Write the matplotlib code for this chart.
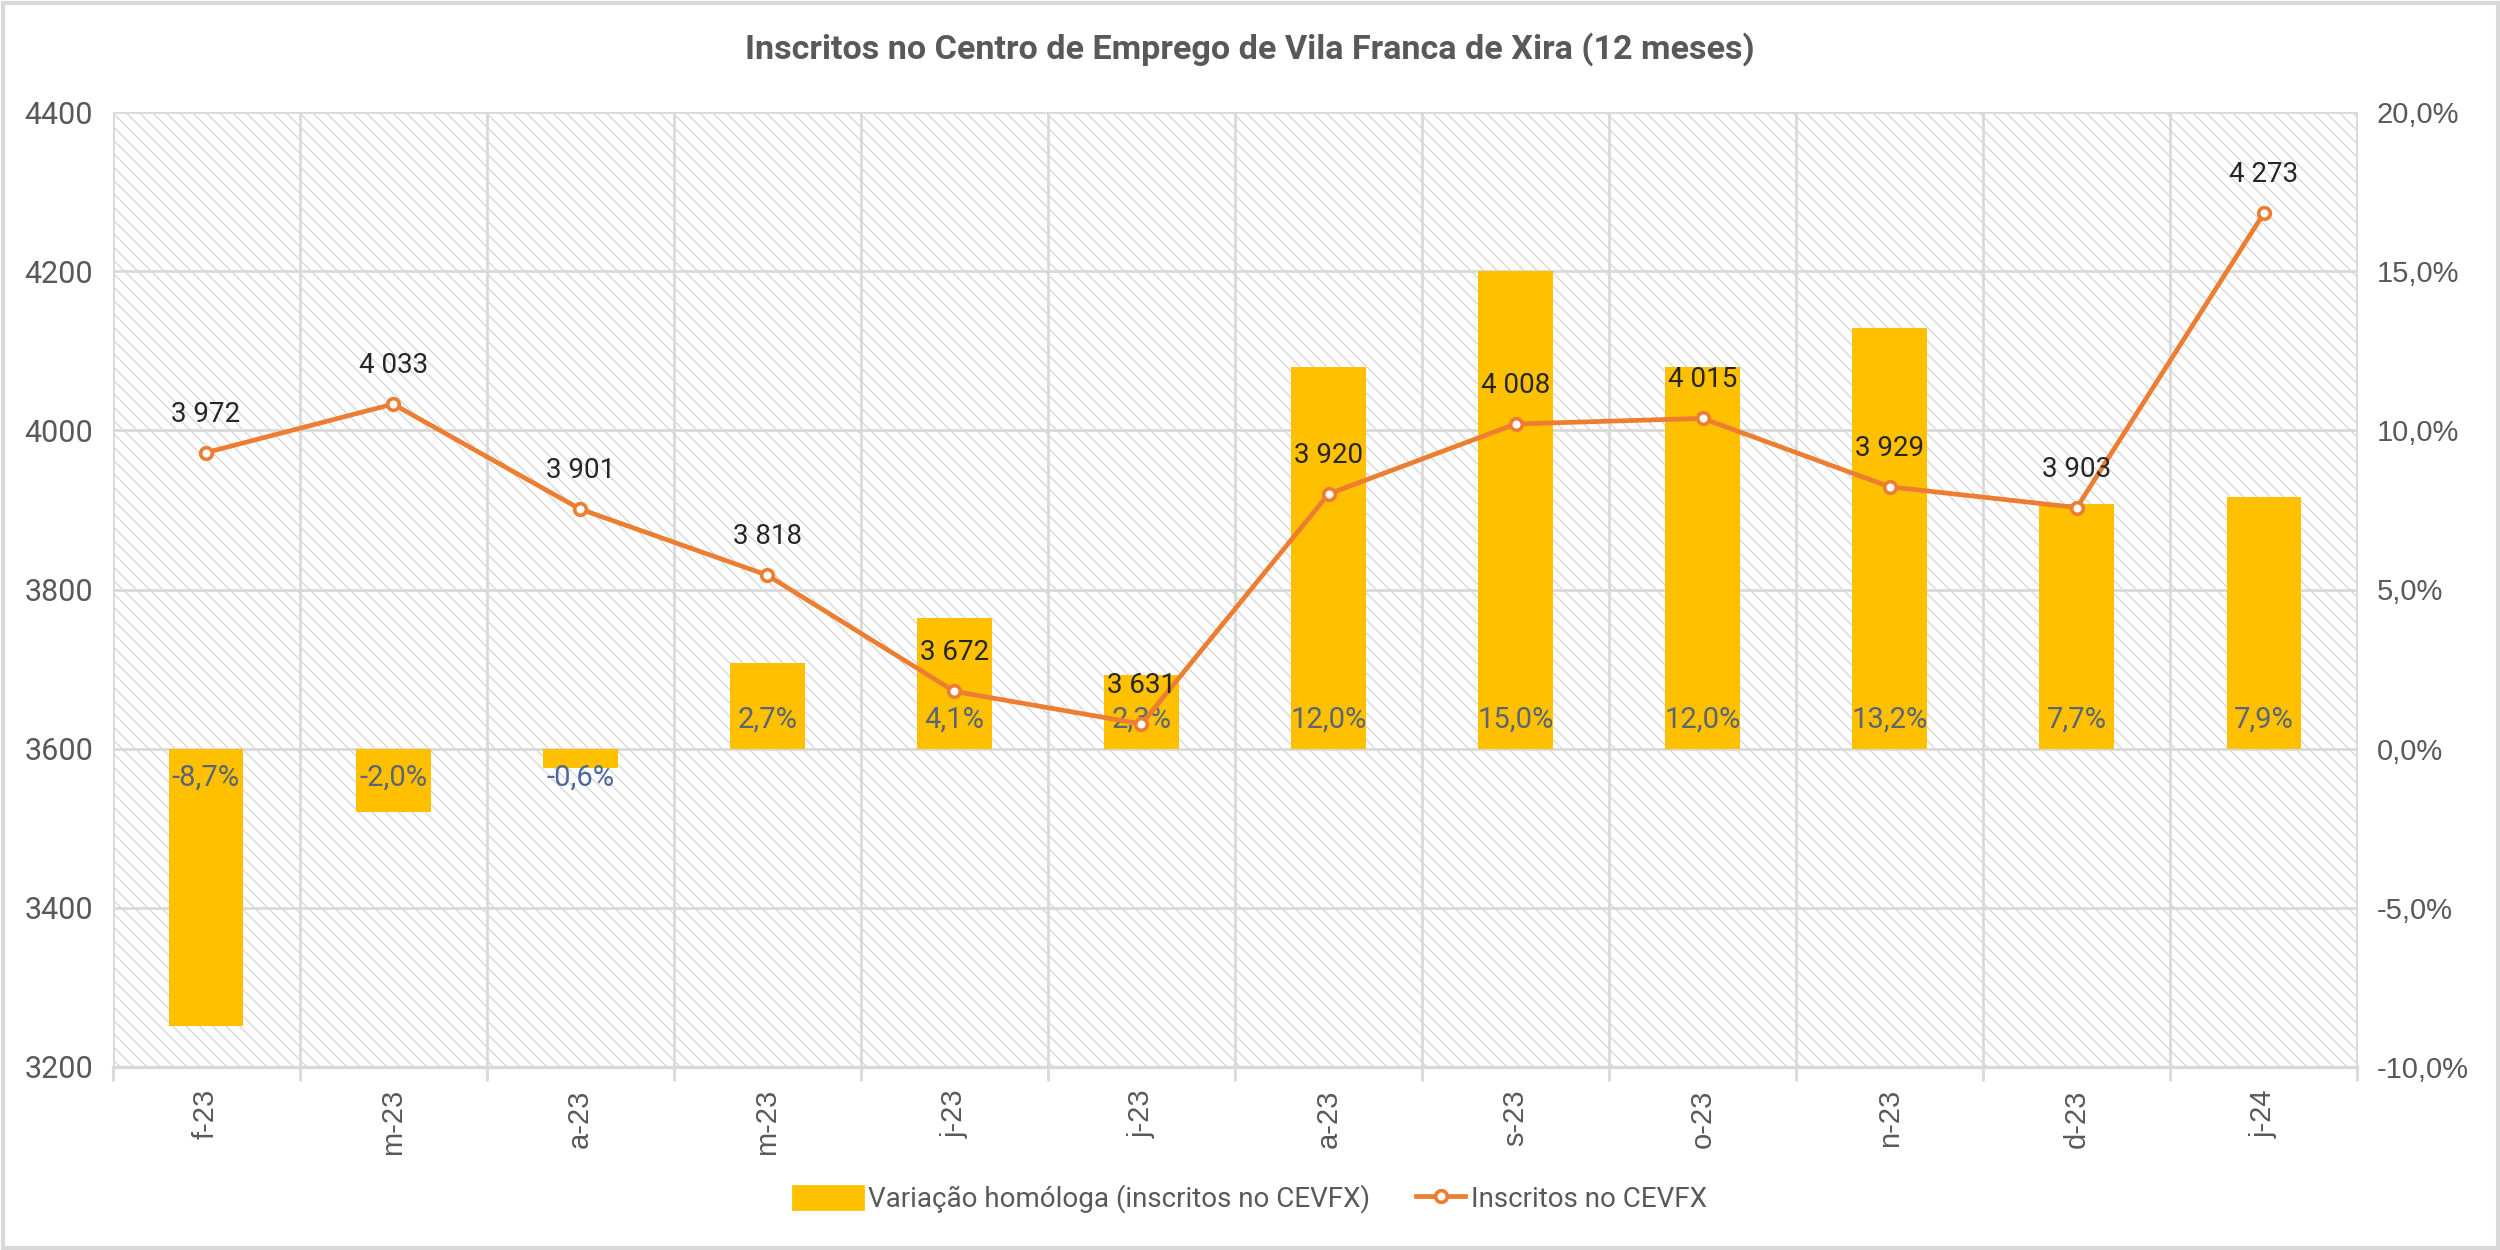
import matplotlib
matplotlib.use("Agg")
import matplotlib.pyplot as plt
from matplotlib.patches import Rectangle
from matplotlib.lines import Line2D
from matplotlib.legend_handler import HandlerLine2D
from matplotlib.ticker import FuncFormatter, MultipleLocator, FixedLocator
import numpy as np

categories = ["f-23", "m-23", "a-23", "m-23", "j-23", "j-23", "a-23", "s-23", "o-23", "n-23", "d-23", "j-24"]
variacao = [-8.7, -2.0, -0.6, 2.7, 4.1, 2.3, 12.0, 15.0, 12.0, 13.2, 7.7, 7.9]
inscritos = [3972, 4033, 3901, 3818, 3672, 3631, 3920, 4008, 4015, 3929, 3903, 4273]

title = "Inscritos no Centro de Emprego de Vila Franca de Xira (12 meses)"
bar_label = "Variação homóloga (inscritos no CEVFX)"
line_label = "Inscritos no CEVFX"

NARROW = ["Roboto", "DejaVu Sans"]
REG = ["Liberation Sans", "DejaVu Sans"]
plt.rcParams["hatch.linewidth"] = 0.4

GRAY = "#595959"
GRID = "#D9D9D9"
YELLOW = "#FFC000"
ORANGE = "#ED7D31"
HATCH = "#CFCFCF"

fig = plt.figure(figsize=(12.5, 6.25), dpi=200)
fig.patch.set_facecolor("white")

ax = fig.add_axes([0.045, 0.1464, 0.898, 0.764])
ax2 = ax.twinx()

n = len(categories)
x = np.arange(n)

ax.set_xlim(-0.5, n - 0.5)
ax.set_ylim(3200, 4400)
ax.yaxis.set_major_locator(MultipleLocator(200))
ax.set_zorder(2)
ax.patch.set_visible(False)

ax2.set_zorder(1)
ax2.set_xlim(-0.5, n - 0.5)
ax2.set_ylim(-10, 20)
ax2.yaxis.set_major_locator(MultipleLocator(5))
ax2.yaxis.set_major_formatter(FuncFormatter(lambda v, p: f"{v:.1f}%".replace(".", ",")))

bg = Rectangle((0, 0), 1, 1, transform=ax2.transAxes, facecolor="white",
               edgecolor=HATCH, linewidth=0, hatch="\\\\\\\\\\", zorder=0)
ax2.add_patch(bg)
for yv in np.arange(-10, 20.1, 5):
    ax2.axhline(yv, color=GRID, lw=1.0, zorder=0.5)
for xb in np.arange(-0.5, n, 1.0):
    ax2.axvline(xb, color=GRID, lw=1.0, zorder=0.5)

ax2.bar(x, variacao, width=0.4, color=YELLOW, zorder=2, label=bar_label)
for xi, v in zip(x, variacao):
    txt = f"{v:.1f}%".replace(".", ",")
    if v >= 0:
        ax2.annotate(txt, (xi, 0), xytext=(0, 10.5), textcoords="offset points",
                     ha="center", va="center", fontsize=10.5, color="#5A6576", family=NARROW, zorder=3)
    else:
        col = "#5A6576" if v < -1.5 else "#4A6A9E"
        ax2.annotate(txt, (xi, 0), xytext=(0, -10.5), textcoords="offset points",
                     ha="center", va="center", fontsize=10.5, color=col, family=NARROW, zorder=3)

ax.plot(x, inscritos, color=ORANGE, lw=1.7, marker="o", ms=4.2, mfc="white",
        mec=ORANGE, mew=1.3, zorder=4, label=line_label)
for xi, v in zip(x, inscritos):
    ax.annotate(f"{v:,}".replace(",", " "), (xi, v), xytext=(0, 9), textcoords="offset points",
                ha="center", va="bottom", fontsize=10, color="#262626", family=NARROW, zorder=5)

ax.set_xticks(x)
ax.set_xticklabels(categories, rotation=90, family=REG, fontsize=10.5, color=GRAY)
ax.tick_params(axis="x", length=0, pad=8)
ax.xaxis.set_minor_locator(FixedLocator(np.arange(-0.5, n, 1.0)))
ax.tick_params(axis="x", which="minor", length=5, color=GRID, width=1.0)
ax.tick_params(axis="y", length=0, pad=7, labelsize=11, labelcolor=GRAY)
for lab in ax.get_yticklabels():
    lab.set_family(NARROW)
ax2.tick_params(axis="y", length=0, pad=7, labelsize=10.5, labelcolor=GRAY)
for lab in ax2.get_yticklabels():
    lab.set_family(REG)
ax2.tick_params(axis="x", length=0, labelbottom=False)
for a in (ax, ax2):
    for s in a.spines.values():
        s.set_visible(False)
ax.spines["bottom"].set_visible(True)
ax.spines["bottom"].set_color(GRID)
ax.spines["bottom"].set_linewidth(1.2)

fig.suptitle(title, x=0.5, y=0.961, fontsize=12.3, fontweight="bold", color=GRAY,
             family=NARROW, va="center")


class ShortLine(HandlerLine2D):
    def create_artists(self, legend, orig_handle, xdescent, ydescent, width, height, fontsize, trans):
        arts = super().create_artists(legend, orig_handle, xdescent, ydescent, width, height, fontsize, trans)
        x0 = -xdescent + 0.3 * width
        x1 = -xdescent + width
        for a in arts:
            xd = np.asarray(a.get_xdata(), dtype=float)
            if len(xd) > 1:
                a.set_xdata(np.linspace(x0, x1, len(xd)))
            else:
                a.set_xdata([(x0 + x1) / 2])
        return arts


handles = [Rectangle((0, 0), 1, 1, color=YELLOW),
           Line2D([0], [0], color=ORANGE, lw=1.7, marker="o", ms=4.2, mfc="white", mec=ORANGE, mew=1.3)]
leg = fig.legend(handles, [bar_label, line_label], loc="center", bbox_to_anchor=(0.5, 0.041),
                 ncol=2, frameon=False, prop={"family": NARROW, "size": 10},
                 handlelength=2.5, handleheight=0.9, handletextpad=0.2, columnspacing=0.9,
                 handler_map={Line2D: ShortLine(numpoints=1)})
for t in leg.get_texts():
    t.set_color(GRAY)

border = Rectangle((0.001, 0.002), 0.998, 0.996, transform=fig.transFigure, fill=False,
                   edgecolor=GRID, linewidth=1.5)
fig.patches.append(border)

fig.savefig("out.png", dpi=200, facecolor="white")
